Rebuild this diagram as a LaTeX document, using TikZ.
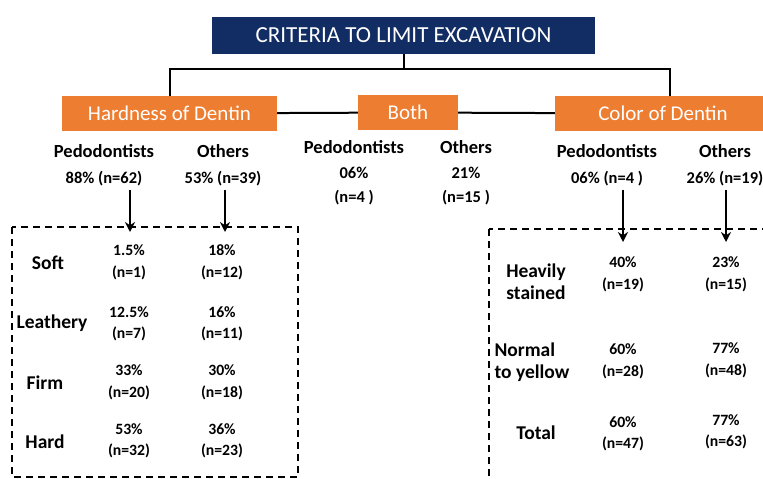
\documentclass[tikz,border=0pt]{standalone}
\usepackage{fontspec}
\setmainfont{Carlito}
\usetikzlibrary{arrows.meta}
\definecolor{titleblue}{RGB}{18,45,100}
\definecolor{critorange}{RGB}{237,125,49}

\begin{document}
\begin{tikzpicture}
  [x=1pt, y=-1pt,
   title/.style={fill=titleblue, text=white, minimum width=383pt, minimum height=37pt,
     font=\fontsize{23}{23}\selectfont},
   crit/.style={fill=critorange, text=white, minimum height=35pt,
     font=\fontsize{21}{21}\selectfont},
   head/.style={font=\bfseries\fontsize{18.5}{18.5}\selectfont},
   pct/.style={font=\bfseries\fontsize{16.5}{24}\selectfont, align=center},
   rowlab/.style={font=\bfseries\fontsize{19.5}{22}\selectfont, align=center},
   cell/.style={font=\bfseries\fontsize{15.7}{21.5}\selectfont, align=center},
   link/.style={line width=2pt},
   down/.style={line width=2pt, -{Stealth[length=10pt, width=10pt]}},
   dashbox/.style={line width=1.5pt, dash pattern=on 7pt off 5pt}]

  \useasboundingbox (0,0) rectangle (763,479);
  \clip (0,0) rectangle (763,479);

  % top of the tree
  \node[title] (crit) at (403.5,35.5) {CRITERIA TO LIMIT EXCAVATION};
  \node[crit, minimum width=215pt] (hard) at (169.5,113.5) {Hardness of Dentin};
  \node[crit, minimum width=100pt] (both) at (408,112.5) {Both};
  \node[crit, minimum width=216pt] (color) at (663,113.5) {Color of Dentin};

  \coordinate (jl) at (169.5,69);
  \coordinate (jr) at (670,69);
  \draw[link] (crit.south) -- (crit.south |- jl);
  \draw[link] (hard.north) |- (jr) -- (jr |- color.north);
  \foreach \from/\to in {hard/both,both/color}
    \draw[link] (\from) -- (\to);

  % groups
  \node[head] (hp) at (104,151) {Pedodontists};
  \node[head] (ho) at (223,151) {Others};
  \node[pct] (hpv) at (104,179) {88\% (n=62)};
  \node[pct] (hov) at (223,179) {53\% (n=39)};

  \node[head] (bp) at (354,147) {Pedodontists};
  \node[head] (bo) at (466,147) {Others};
  \node[pct] (bpv) at (354,186.5) {06\%\\(n=4 )};
  \node[pct] (bov) at (466,186.5) {21\%\\(n=15 )};

  \node[head] (cp) at (607,151) {Pedodontists};
  \node[head] (co) at (725,151) {Others};
  \node[pct] (cpv) at (607,179) {06\% (n=4 )};
  \node[pct] (cov) at (725,179) {26\% (n=19)};

  \coordinate (a1) at (130,232);
  \coordinate (a2) at (225,232);
  \coordinate (a3) at (623,242);
  \coordinate (a4) at (726,242);
  \foreach \from/\to in {hpv/a1,hov/a2,cpv/a3,cov/a4}
    \draw[down] (\from.south -| \to) -- (\to);

  % hardness table
  \draw[dashbox] (12,227) rectangle (298,477);
  \node[rowlab] (soft) at (48,263) {Soft};
  \node[cell] (soft-p) at (129,262.5) {1.5\%\\(n=1)};
  \node[cell] (soft-o) at (222,262.5) {18\%\\(n=12)};
  \node[rowlab] (leath) at (52,323) {Leathery};
  \node[cell] (leath-p) at (129,324) {12.5\%\\(n=7)};
  \node[cell] (leath-o) at (222,324) {16\%\\(n=11)};
  \node[rowlab] (firm) at (45,383) {Firm};
  \node[cell] (firm-p) at (129,382.5) {33\%\\(n=20)};
  \node[cell] (firm-o) at (222,382.5) {30\%\\(n=18)};
  \node[rowlab] (hardr) at (45,442) {Hard};
  \node[cell] (hardr-p) at (129,441) {53\%\\(n=32)};
  \node[cell] (hardr-o) at (222,441) {36\%\\(n=23)};

  % color table
  \draw[dashbox] (489,229) rectangle (800,520);
  \node[rowlab] (heavy) at (536,282) {Heavily\\stained};
  \node[cell] (heavy-p) at (623,274.5) {40\%\\(n=19)};
  \node[cell] (heavy-o) at (726,274.5) {23\%\\(n=15)};
  \node[rowlab, align=left, anchor=west] (norm) at (491,362.5) {Normal\\to yellow};
  \node[cell] (norm-p) at (623,361.5) {60\%\\(n=28)};
  \node[cell] (norm-o) at (726,360.5) {77\%\\(n=48)};
  \node[rowlab] (total) at (536,433) {Total};
  \node[cell] (total-p) at (623,434) {60\%\\(n=47)};
  \node[cell] (total-o) at (726,432) {77\%\\(n=63)};
\end{tikzpicture}
\end{document}
